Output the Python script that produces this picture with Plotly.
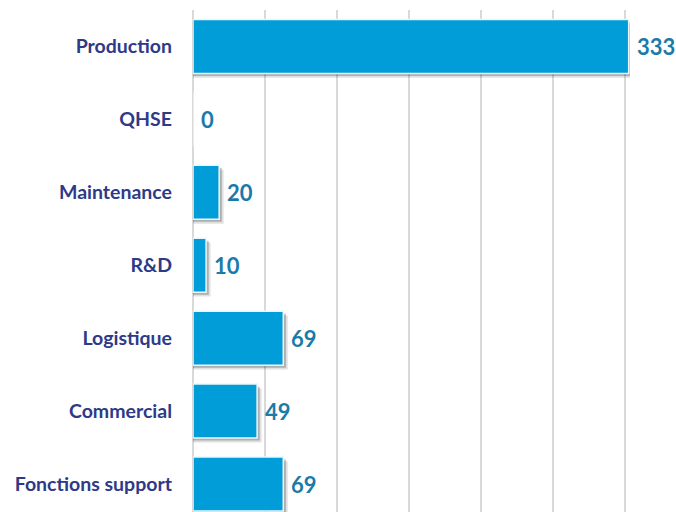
import plotly.graph_objects as go

categories = ["Production", "QHSE", "Maintenance", "R&D", "Logistique", "Commercial", "Fonctions support"]
values = [333, 0, 20, 10, 69, 49, 69]

BAR = "#009DD9"
LABEL = "#2E3A87"
VALUE = "#1A7AA8"
GRID = "#D9D9D9"
FONT = "Lato"

ypos = list(range(len(categories)))
W = 0.74

fig = go.Figure()

# soft drop shadows (same data, offset slightly)
for dx, dy, col in [(3.4, 0.06, "rgba(0,0,0,0.12)"), (2.0, 0.035, "rgba(0,0,0,0.22)")]:
    fig.add_trace(go.Bar(
        y=ypos, x=[v + dx if v > 0 else 0 for v in values], orientation="h",
        width=W, offset=-W / 2 + dy,
        marker=dict(color=col, line=dict(width=0)),
        hoverinfo="skip", showlegend=False,
    ))

fig.add_trace(go.Bar(
    y=ypos, x=values, orientation="h",
    width=W, offset=-W / 2,
    marker=dict(color=BAR, line=dict(color="#EAF6FC", width=1.5)),
    showlegend=False,
))

for yv, v in zip(ypos, values):
    fig.add_annotation(x=v, y=yv, xref="x", yref="y", text=f"<b>{v}</b>",
                       showarrow=False, xanchor="left", yanchor="middle",
                       xshift=6, font=dict(family=FONT, size=22, color=VALUE))

fig.update_layout(
    width=676, height=512,
    margin=dict(l=193, r=46, t=10, b=0),
    paper_bgcolor="white", plot_bgcolor="white",
    barmode="overlay",
    font=dict(family=FONT),
)
fig.update_xaxes(range=[0, 334], dtick=55, tick0=0, showticklabels=False,
                 showgrid=True, gridcolor=GRID, gridwidth=1.5,
                 zeroline=True, zerolinecolor=GRID, zerolinewidth=1.5,
                 showline=False, automargin=False)
fig.update_yaxes(tickmode="array", tickvals=ypos,
                 ticktext=[f"<b>{c}</b>" for c in categories],
                 range=[6.384, -0.5], showgrid=False, zeroline=False,
                 tickfont=dict(family=FONT, size=19.5, color=LABEL),
                 ticks="", ticklabelstandoff=20, showline=False, automargin=False)

fig.write_html("out.html", config={"displayModeBar": False},
               post_script="document.body.style.margin='0';document.body.style.overflow='hidden';")
